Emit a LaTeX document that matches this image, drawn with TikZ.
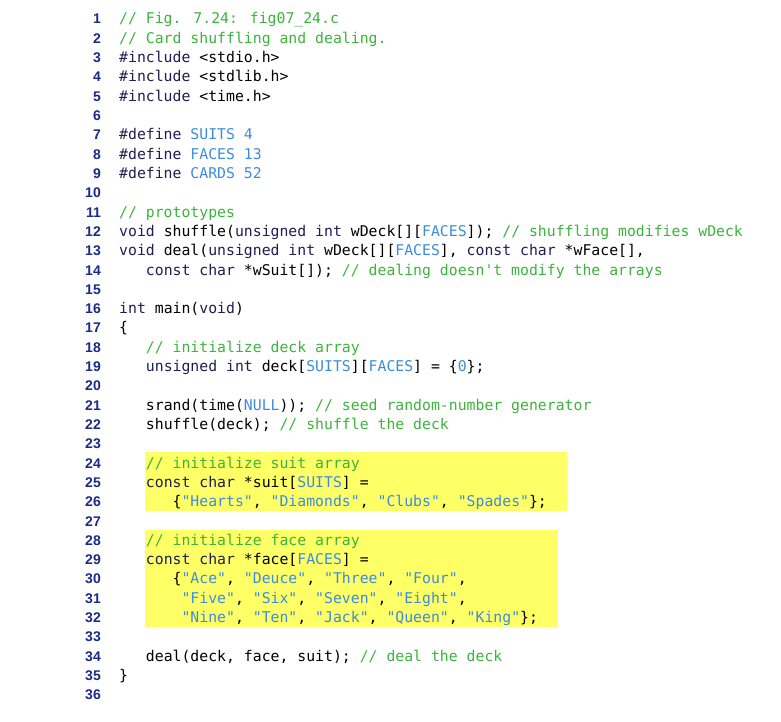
\documentclass[tikz,border=0pt]{standalone}
\usepackage{fontspec}
\newfontfamily\cf{DejaVu Sans Mono}[Ligatures=TeXOff]
\newfontfamily\lnf{Liberation Sans}
\definecolor{cgreen}{HTML}{3CB43C}
\definecolor{cblue}{HTML}{3C8CDC}
\definecolor{ckw}{HTML}{1E1E50}
\definecolor{cnum}{HTML}{1A2A8A}
\definecolor{hl}{HTML}{FFFF66}
\newcommand{\cm}[1]{\textcolor{cgreen}{#1}}
\newcommand{\bl}[1]{\textcolor{cblue}{#1}}
\newcommand{\kw}[1]{\textcolor{ckw}{#1}}
\newcommand{\ind}[1]{\hspace*{#1\fontcharwd\font`0}}
\newcommand{\codeline}[2]{\node[code] (l#1) at (119,{24+(#1-1)*19.31}) {#2};}
\begin{document}
\begin{tikzpicture}[x=1pt,y=-1pt,
  code/.style={anchor=base west,inner sep=0pt,font=\cf\fontsize{14.8}{16}\selectfont},
  lnum/.style={anchor=base east,inner sep=0pt,text=cnum,font=\lnf\bfseries\fontsize{14}{16}\selectfont}]
\useasboundingbox (0,0) rectangle (781,722);
\fill[hl] (145,452) rectangle (567,511);
\fill[hl] (145,530) rectangle (558,627);
\foreach \n in {1,...,36}{\node[lnum] (n\n) at (101,{24+(\n-1)*19.31}) {\n};}
\codeline{1}{\cm{// Fig. 7.24: fig07\_24.c}}
\codeline{2}{\cm{// Card shuffling and dealing.}}
\codeline{3}{\kw{\#include} <stdio.h>}
\codeline{4}{\kw{\#include} <stdlib.h>}
\codeline{5}{\kw{\#include} <time.h>}
\codeline{7}{\kw{\#define} \bl{SUITS 4}}
\codeline{8}{\kw{\#define} \bl{FACES 13}}
\codeline{9}{\kw{\#define} \bl{CARDS 52}}
\codeline{11}{\cm{// prototypes}}
\codeline{12}{\kw{void} shuffle(\kw{unsigned int} wDeck[][\bl{FACES}]); \cm{// shuffling modifies wDeck}}
\codeline{13}{\kw{void} deal(\kw{unsigned int} wDeck[][\bl{FACES}], \kw{const char} *wFace[],}
\codeline{14}{\ind{3}\kw{const char} *wSuit[]); \cm{// dealing doesn't modify the arrays}}
\codeline{16}{\kw{int} main(\kw{void})}
\codeline{17}{\{}
\codeline{18}{\ind{3}\cm{// initialize deck array}}
\codeline{19}{\ind{3}\kw{unsigned int} deck[\bl{SUITS}][\bl{FACES}] = \{\bl{0}\};}
\codeline{21}{\ind{3}srand(time(\bl{NULL})); \cm{// seed random-number generator}}
\codeline{22}{\ind{3}shuffle(deck); \cm{// shuffle the deck}}
\codeline{24}{\ind{3}\cm{// initialize suit array}}
\codeline{25}{\ind{3}\kw{const char} *suit[\bl{SUITS}] =}
\codeline{26}{\ind{6}\{\bl{"Hearts"}, \bl{"Diamonds"}, \bl{"Clubs"}, \bl{"Spades"}\};}
\codeline{28}{\ind{3}\cm{// initialize face array}}
\codeline{29}{\ind{3}\kw{const char} *face[\bl{FACES}] =}
\codeline{30}{\ind{6}\{\bl{"Ace"}, \bl{"Deuce"}, \bl{"Three"}, \bl{"Four"},}
\codeline{31}{\ind{7}\bl{"Five"}, \bl{"Six"}, \bl{"Seven"}, \bl{"Eight"},}
\codeline{32}{\ind{7}\bl{"Nine"}, \bl{"Ten"}, \bl{"Jack"}, \bl{"Queen"}, \bl{"King"}\};}
\codeline{34}{\ind{3}deal(deck, face, suit); \cm{// deal the deck}}
\codeline{35}{\}}
\end{tikzpicture}
\end{document}
